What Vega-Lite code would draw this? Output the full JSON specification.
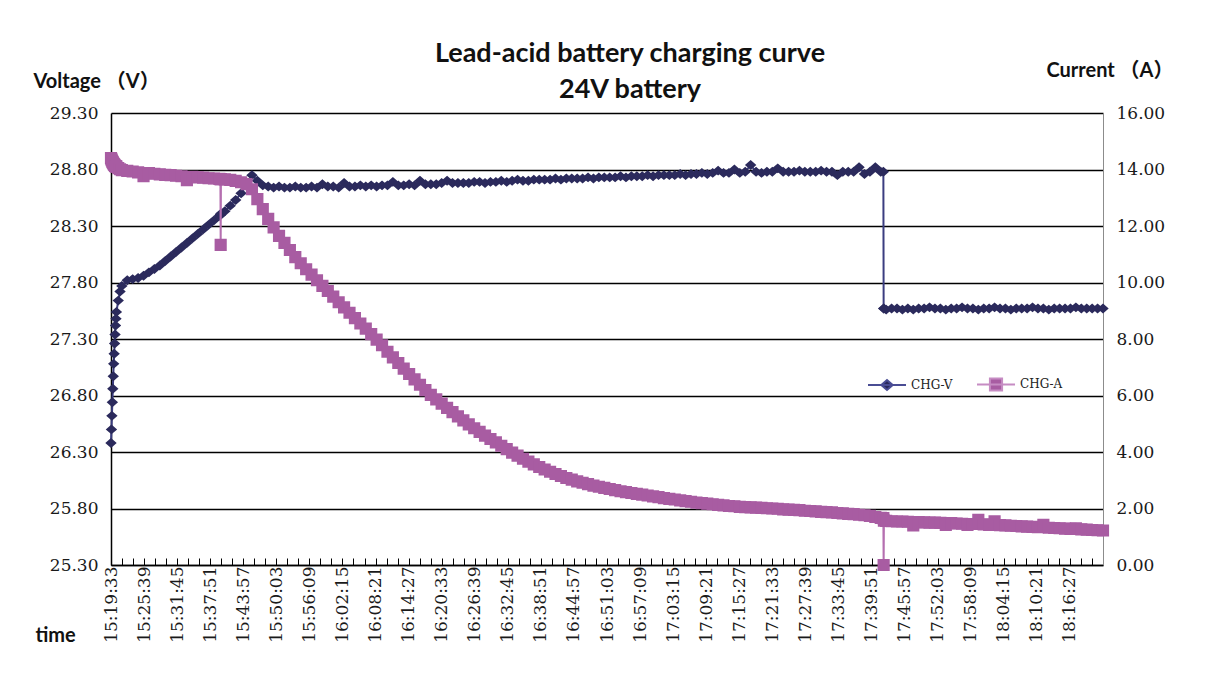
{
  "$schema": "https://vega.github.io/schema/vega-lite/v6.json",
  "width": 992,
  "height": 452,
  "autosize": {"type": "none"},
  "padding": {"left": 111, "top": 113, "right": 110, "bottom": 124},
  "background": "white",
  "config": {"view": {"stroke": null}},
  "title": {
    "text": ["Lead-acid battery charging curve", "24V battery"],
    "font": "Lato",
    "fontSize": 27,
    "fontWeight": "bold",
    "color": "#111111",
    "lineHeight": 36,
    "anchor": "middle",
    "frame": "group",
    "dx": 23,
    "offset": -44
  },
  "data": {
    "values": [
      {"t": "1970-01-01T15:19:33Z", "V": 26.38, "A": 14.40},
      {"t": "1970-01-01T15:19:38Z", "V": 26.50, "A": 14.36},
      {"t": "1970-01-01T15:19:43Z", "V": 26.62, "A": 14.32},
      {"t": "1970-01-01T15:19:48Z", "V": 26.74, "A": 14.28},
      {"t": "1970-01-01T15:19:53Z", "V": 26.86, "A": 14.25},
      {"t": "1970-01-01T15:19:58Z", "V": 26.97, "A": 14.22},
      {"t": "1970-01-01T15:20:03Z", "V": 27.08, "A": 14.19},
      {"t": "1970-01-01T15:20:08Z", "V": 27.17, "A": 14.17},
      {"t": "1970-01-01T15:20:13Z", "V": 27.26, "A": 14.15},
      {"t": "1970-01-01T15:20:18Z", "V": 27.34, "A": 14.13},
      {"t": "1970-01-01T15:20:23Z", "V": 27.42, "A": 14.12},
      {"t": "1970-01-01T15:20:28Z", "V": 27.48, "A": 14.11},
      {"t": "1970-01-01T15:20:33Z", "V": 27.54, "A": 14.10},
      {"t": "1970-01-01T15:20:53Z", "V": 27.64, "A": 14.05},
      {"t": "1970-01-01T15:21:13Z", "V": 27.72, "A": 14.01},
      {"t": "1970-01-01T15:21:33Z", "V": 27.77, "A": 13.98},
      {"t": "1970-01-01T15:22:33Z", "V": 27.82, "A": 13.95},
      {"t": "1970-01-01T15:23:33Z", "V": 27.83, "A": 13.93},
      {"t": "1970-01-01T15:24:33Z", "V": 27.84, "A": 13.90},
      {"t": "1970-01-01T15:25:33Z", "V": 27.86, "A": 13.76},
      {"t": "1970-01-01T15:26:33Z", "V": 27.89, "A": 13.87},
      {"t": "1970-01-01T15:27:33Z", "V": 27.92, "A": 13.85},
      {"t": "1970-01-01T15:28:33Z", "V": 27.95, "A": 13.83},
      {"t": "1970-01-01T15:29:33Z", "V": 27.99, "A": 13.81},
      {"t": "1970-01-01T15:30:33Z", "V": 28.03, "A": 13.80},
      {"t": "1970-01-01T15:31:33Z", "V": 28.07, "A": 13.78},
      {"t": "1970-01-01T15:32:33Z", "V": 28.11, "A": 13.76},
      {"t": "1970-01-01T15:33:33Z", "V": 28.15, "A": 13.62},
      {"t": "1970-01-01T15:34:33Z", "V": 28.19, "A": 13.74},
      {"t": "1970-01-01T15:35:33Z", "V": 28.23, "A": 13.72},
      {"t": "1970-01-01T15:36:33Z", "V": 28.27, "A": 13.71},
      {"t": "1970-01-01T15:37:33Z", "V": 28.31, "A": 13.69},
      {"t": "1970-01-01T15:38:33Z", "V": 28.35, "A": 13.68},
      {"t": "1970-01-01T15:39:33Z", "V": 28.39, "A": 13.67},
      {"t": "1970-01-01T15:39:44Z", "V": 28.40, "A": 13.66},
      {"t": "1970-01-01T15:39:47Z", "V": 28.40, "A": 11.33},
      {"t": "1970-01-01T15:39:50Z", "V": 28.41, "A": 13.66},
      {"t": "1970-01-01T15:40:33Z", "V": 28.43, "A": 13.65},
      {"t": "1970-01-01T15:41:33Z", "V": 28.48, "A": 13.63},
      {"t": "1970-01-01T15:42:33Z", "V": 28.53, "A": 13.60},
      {"t": "1970-01-01T15:43:33Z", "V": 28.59, "A": 13.55},
      {"t": "1970-01-01T15:44:33Z", "V": 28.66, "A": 13.48},
      {"t": "1970-01-01T15:45:33Z", "V": 28.75, "A": 13.30},
      {"t": "1970-01-01T15:46:33Z", "V": 28.70, "A": 12.95},
      {"t": "1970-01-01T15:47:33Z", "V": 28.66, "A": 12.60},
      {"t": "1970-01-01T15:48:33Z", "V": 28.65, "A": 12.25},
      {"t": "1970-01-01T15:49:33Z", "V": 28.64, "A": 11.95},
      {"t": "1970-01-01T15:50:33Z", "V": 28.65, "A": 11.65},
      {"t": "1970-01-01T15:51:33Z", "V": 28.64, "A": 11.40},
      {"t": "1970-01-01T15:52:33Z", "V": 28.64, "A": 11.15},
      {"t": "1970-01-01T15:53:33Z", "V": 28.65, "A": 10.90},
      {"t": "1970-01-01T15:54:33Z", "V": 28.64, "A": 10.68},
      {"t": "1970-01-01T15:55:33Z", "V": 28.64, "A": 10.47},
      {"t": "1970-01-01T15:56:33Z", "V": 28.65, "A": 10.28},
      {"t": "1970-01-01T15:57:33Z", "V": 28.64, "A": 10.08},
      {"t": "1970-01-01T15:58:33Z", "V": 28.67, "A": 9.88},
      {"t": "1970-01-01T15:59:33Z", "V": 28.65, "A": 9.70},
      {"t": "1970-01-01T16:00:33Z", "V": 28.65, "A": 9.50},
      {"t": "1970-01-01T16:01:33Z", "V": 28.64, "A": 9.30},
      {"t": "1970-01-01T16:02:33Z", "V": 28.68, "A": 9.12},
      {"t": "1970-01-01T16:03:33Z", "V": 28.65, "A": 8.93},
      {"t": "1970-01-01T16:04:33Z", "V": 28.65, "A": 8.74},
      {"t": "1970-01-01T16:05:33Z", "V": 28.66, "A": 8.55},
      {"t": "1970-01-01T16:06:33Z", "V": 28.65, "A": 8.37},
      {"t": "1970-01-01T16:07:33Z", "V": 28.66, "A": 8.17},
      {"t": "1970-01-01T16:08:33Z", "V": 28.65, "A": 7.98},
      {"t": "1970-01-01T16:09:33Z", "V": 28.66, "A": 7.78},
      {"t": "1970-01-01T16:10:33Z", "V": 28.66, "A": 7.55},
      {"t": "1970-01-01T16:11:33Z", "V": 28.69, "A": 7.35},
      {"t": "1970-01-01T16:12:33Z", "V": 28.66, "A": 7.15},
      {"t": "1970-01-01T16:13:33Z", "V": 28.66, "A": 6.95},
      {"t": "1970-01-01T16:14:33Z", "V": 28.67, "A": 6.76},
      {"t": "1970-01-01T16:15:33Z", "V": 28.66, "A": 6.57},
      {"t": "1970-01-01T16:16:33Z", "V": 28.70, "A": 6.38},
      {"t": "1970-01-01T16:17:33Z", "V": 28.67, "A": 6.19},
      {"t": "1970-01-01T16:18:33Z", "V": 28.67, "A": 6.02},
      {"t": "1970-01-01T16:19:33Z", "V": 28.67, "A": 5.86},
      {"t": "1970-01-01T16:20:33Z", "V": 28.68, "A": 5.71},
      {"t": "1970-01-01T16:21:33Z", "V": 28.70, "A": 5.56},
      {"t": "1970-01-01T16:22:33Z", "V": 28.68, "A": 5.41},
      {"t": "1970-01-01T16:23:33Z", "V": 28.68, "A": 5.26},
      {"t": "1970-01-01T16:24:33Z", "V": 28.68, "A": 5.12},
      {"t": "1970-01-01T16:25:33Z", "V": 28.68, "A": 4.98},
      {"t": "1970-01-01T16:26:33Z", "V": 28.69, "A": 4.84},
      {"t": "1970-01-01T16:27:33Z", "V": 28.69, "A": 4.71},
      {"t": "1970-01-01T16:28:33Z", "V": 28.68, "A": 4.58},
      {"t": "1970-01-01T16:29:33Z", "V": 28.69, "A": 4.46},
      {"t": "1970-01-01T16:30:33Z", "V": 28.69, "A": 4.34},
      {"t": "1970-01-01T16:31:33Z", "V": 28.70, "A": 4.22},
      {"t": "1970-01-01T16:32:33Z", "V": 28.69, "A": 4.10},
      {"t": "1970-01-01T16:33:33Z", "V": 28.70, "A": 3.98},
      {"t": "1970-01-01T16:34:33Z", "V": 28.71, "A": 3.87},
      {"t": "1970-01-01T16:35:33Z", "V": 28.70, "A": 3.76},
      {"t": "1970-01-01T16:36:33Z", "V": 28.70, "A": 3.66},
      {"t": "1970-01-01T16:37:33Z", "V": 28.71, "A": 3.56},
      {"t": "1970-01-01T16:38:33Z", "V": 28.71, "A": 3.47},
      {"t": "1970-01-01T16:39:33Z", "V": 28.71, "A": 3.38},
      {"t": "1970-01-01T16:40:33Z", "V": 28.71, "A": 3.30},
      {"t": "1970-01-01T16:41:33Z", "V": 28.72, "A": 3.22},
      {"t": "1970-01-01T16:42:33Z", "V": 28.71, "A": 3.15},
      {"t": "1970-01-01T16:43:33Z", "V": 28.72, "A": 3.08},
      {"t": "1970-01-01T16:44:33Z", "V": 28.72, "A": 3.02},
      {"t": "1970-01-01T16:45:33Z", "V": 28.72, "A": 2.96},
      {"t": "1970-01-01T16:46:33Z", "V": 28.72, "A": 2.91},
      {"t": "1970-01-01T16:47:33Z", "V": 28.73, "A": 2.86},
      {"t": "1970-01-01T16:48:33Z", "V": 28.72, "A": 2.81},
      {"t": "1970-01-01T16:49:33Z", "V": 28.73, "A": 2.77},
      {"t": "1970-01-01T16:50:33Z", "V": 28.73, "A": 2.73},
      {"t": "1970-01-01T16:51:33Z", "V": 28.73, "A": 2.69},
      {"t": "1970-01-01T16:52:33Z", "V": 28.73, "A": 2.65},
      {"t": "1970-01-01T16:53:33Z", "V": 28.74, "A": 2.61},
      {"t": "1970-01-01T16:54:33Z", "V": 28.73, "A": 2.58},
      {"t": "1970-01-01T16:55:33Z", "V": 28.74, "A": 2.55},
      {"t": "1970-01-01T16:56:33Z", "V": 28.74, "A": 2.52},
      {"t": "1970-01-01T16:57:33Z", "V": 28.74, "A": 2.49},
      {"t": "1970-01-01T16:58:33Z", "V": 28.75, "A": 2.46},
      {"t": "1970-01-01T16:59:33Z", "V": 28.74, "A": 2.43},
      {"t": "1970-01-01T17:00:33Z", "V": 28.75, "A": 2.40},
      {"t": "1970-01-01T17:01:33Z", "V": 28.75, "A": 2.37},
      {"t": "1970-01-01T17:02:33Z", "V": 28.75, "A": 2.34},
      {"t": "1970-01-01T17:03:33Z", "V": 28.75, "A": 2.32},
      {"t": "1970-01-01T17:04:33Z", "V": 28.76, "A": 2.29},
      {"t": "1970-01-01T17:05:33Z", "V": 28.75, "A": 2.26},
      {"t": "1970-01-01T17:06:33Z", "V": 28.76, "A": 2.24},
      {"t": "1970-01-01T17:07:33Z", "V": 28.76, "A": 2.21},
      {"t": "1970-01-01T17:08:33Z", "V": 28.77, "A": 2.19},
      {"t": "1970-01-01T17:09:33Z", "V": 28.76, "A": 2.17},
      {"t": "1970-01-01T17:10:33Z", "V": 28.77, "A": 2.15},
      {"t": "1970-01-01T17:11:33Z", "V": 28.79, "A": 2.13},
      {"t": "1970-01-01T17:12:33Z", "V": 28.77, "A": 2.11},
      {"t": "1970-01-01T17:13:33Z", "V": 28.77, "A": 2.09},
      {"t": "1970-01-01T17:14:33Z", "V": 28.80, "A": 2.08},
      {"t": "1970-01-01T17:15:33Z", "V": 28.77, "A": 2.06},
      {"t": "1970-01-01T17:16:33Z", "V": 28.78, "A": 2.05},
      {"t": "1970-01-01T17:17:33Z", "V": 28.84, "A": 2.04},
      {"t": "1970-01-01T17:18:33Z", "V": 28.78, "A": 2.03},
      {"t": "1970-01-01T17:19:33Z", "V": 28.77, "A": 2.02},
      {"t": "1970-01-01T17:20:33Z", "V": 28.78, "A": 2.01},
      {"t": "1970-01-01T17:21:33Z", "V": 28.78, "A": 2.00},
      {"t": "1970-01-01T17:22:33Z", "V": 28.81, "A": 1.99},
      {"t": "1970-01-01T17:23:33Z", "V": 28.78, "A": 1.97},
      {"t": "1970-01-01T17:24:33Z", "V": 28.78, "A": 1.96},
      {"t": "1970-01-01T17:25:33Z", "V": 28.78, "A": 1.95},
      {"t": "1970-01-01T17:26:33Z", "V": 28.79, "A": 1.94},
      {"t": "1970-01-01T17:27:33Z", "V": 28.78, "A": 1.92},
      {"t": "1970-01-01T17:28:33Z", "V": 28.78, "A": 1.91},
      {"t": "1970-01-01T17:29:33Z", "V": 28.78, "A": 1.90},
      {"t": "1970-01-01T17:30:33Z", "V": 28.79, "A": 1.88},
      {"t": "1970-01-01T17:31:33Z", "V": 28.78, "A": 1.87},
      {"t": "1970-01-01T17:32:33Z", "V": 28.78, "A": 1.86},
      {"t": "1970-01-01T17:33:33Z", "V": 28.75, "A": 1.84},
      {"t": "1970-01-01T17:34:33Z", "V": 28.78, "A": 1.83},
      {"t": "1970-01-01T17:35:33Z", "V": 28.78, "A": 1.81},
      {"t": "1970-01-01T17:36:33Z", "V": 28.78, "A": 1.80},
      {"t": "1970-01-01T17:37:33Z", "V": 28.82, "A": 1.78},
      {"t": "1970-01-01T17:38:33Z", "V": 28.76, "A": 1.76},
      {"t": "1970-01-01T17:39:33Z", "V": 28.78, "A": 1.74},
      {"t": "1970-01-01T17:40:33Z", "V": 28.82, "A": 1.70},
      {"t": "1970-01-01T17:41:33Z", "V": 28.78, "A": 1.67},
      {"t": "1970-01-01T17:42:02Z", "V": 28.78, "A": 1.66},
      {"t": "1970-01-01T17:42:05Z", "V": 27.57, "A": 0.00},
      {"t": "1970-01-01T17:42:08Z", "V": 27.57, "A": 1.57},
      {"t": "1970-01-01T17:42:33Z", "V": 27.56, "A": 1.56},
      {"t": "1970-01-01T17:43:33Z", "V": 27.57, "A": 1.55},
      {"t": "1970-01-01T17:44:33Z", "V": 27.57, "A": 1.54},
      {"t": "1970-01-01T17:45:33Z", "V": 27.56, "A": 1.54},
      {"t": "1970-01-01T17:46:33Z", "V": 27.57, "A": 1.53},
      {"t": "1970-01-01T17:47:33Z", "V": 27.56, "A": 1.40},
      {"t": "1970-01-01T17:48:33Z", "V": 27.57, "A": 1.52},
      {"t": "1970-01-01T17:49:33Z", "V": 27.57, "A": 1.51},
      {"t": "1970-01-01T17:50:33Z", "V": 27.58, "A": 1.50},
      {"t": "1970-01-01T17:51:33Z", "V": 27.57, "A": 1.50},
      {"t": "1970-01-01T17:52:33Z", "V": 27.57, "A": 1.49},
      {"t": "1970-01-01T17:53:33Z", "V": 27.56, "A": 1.42},
      {"t": "1970-01-01T17:54:33Z", "V": 27.57, "A": 1.48},
      {"t": "1970-01-01T17:55:33Z", "V": 27.57, "A": 1.47},
      {"t": "1970-01-01T17:56:33Z", "V": 27.58, "A": 1.46},
      {"t": "1970-01-01T17:57:33Z", "V": 27.57, "A": 1.42},
      {"t": "1970-01-01T17:58:33Z", "V": 27.57, "A": 1.45},
      {"t": "1970-01-01T17:59:33Z", "V": 27.56, "A": 1.60},
      {"t": "1970-01-01T18:00:33Z", "V": 27.57, "A": 1.44},
      {"t": "1970-01-01T18:01:33Z", "V": 27.57, "A": 1.42},
      {"t": "1970-01-01T18:02:33Z", "V": 27.58, "A": 1.55},
      {"t": "1970-01-01T18:03:33Z", "V": 27.57, "A": 1.41},
      {"t": "1970-01-01T18:04:33Z", "V": 27.57, "A": 1.40},
      {"t": "1970-01-01T18:05:33Z", "V": 27.56, "A": 1.39},
      {"t": "1970-01-01T18:06:33Z", "V": 27.57, "A": 1.38},
      {"t": "1970-01-01T18:07:33Z", "V": 27.57, "A": 1.37},
      {"t": "1970-01-01T18:08:33Z", "V": 27.57, "A": 1.36},
      {"t": "1970-01-01T18:09:33Z", "V": 27.58, "A": 1.35},
      {"t": "1970-01-01T18:10:33Z", "V": 27.57, "A": 1.34},
      {"t": "1970-01-01T18:11:33Z", "V": 27.57, "A": 1.42},
      {"t": "1970-01-01T18:12:33Z", "V": 27.56, "A": 1.32},
      {"t": "1970-01-01T18:13:33Z", "V": 27.57, "A": 1.31},
      {"t": "1970-01-01T18:14:33Z", "V": 27.57, "A": 1.30},
      {"t": "1970-01-01T18:15:33Z", "V": 27.57, "A": 1.29},
      {"t": "1970-01-01T18:16:33Z", "V": 27.57, "A": 1.28},
      {"t": "1970-01-01T18:17:33Z", "V": 27.58, "A": 1.30},
      {"t": "1970-01-01T18:18:33Z", "V": 27.57, "A": 1.26},
      {"t": "1970-01-01T18:19:33Z", "V": 27.57, "A": 1.25},
      {"t": "1970-01-01T18:20:33Z", "V": 27.57, "A": 1.24},
      {"t": "1970-01-01T18:21:33Z", "V": 27.57, "A": 1.23},
      {"t": "1970-01-01T18:22:33Z", "V": 27.57, "A": 1.22}
    ]
  },
  "encoding": {
    "x": {
      "field": "t",
      "type": "temporal",
      "scale": {"type": "utc", "domain": [55173000, 66153000]},
      "axis": {
        "title": "time",
        "titleFont": "Lato",
        "titleFontSize": 20,
        "titleFontWeight": "bold",
        "titleColor": "#111111",
        "titleAngle": 0,
        "titleAlign": "left",
        "titleBaseline": "alphabetic",
        "titleX": -76,
        "titleY": 76,
        "values": [55173000, 55295000, 55417000, 55539000, 55661000, 55783000, 55905000, 56027000, 56149000, 56271000, 56393000, 56515000, 56637000, 56759000, 56881000, 57003000, 57125000, 57247000, 57369000, 57491000, 57613000, 57735000, 57857000, 57979000, 58101000, 58223000, 58345000, 58467000, 58589000, 58711000, 58833000, 58955000, 59077000, 59199000, 59321000, 59443000, 59565000, 59687000, 59809000, 59931000, 60053000, 60175000, 60297000, 60419000, 60541000, 60663000, 60785000, 60907000, 61029000, 61151000, 61273000, 61395000, 61517000, 61639000, 61761000, 61883000, 62005000, 62127000, 62249000, 62371000, 62493000, 62615000, 62737000, 62859000, 62981000, 63103000, 63225000, 63347000, 63469000, 63591000, 63713000, 63835000, 63957000, 64079000, 64201000, 64323000, 64445000, 64567000, 64689000, 64811000, 64933000, 65055000, 65177000, 65299000, 65421000, 65543000, 65665000, 65787000, 65909000, 66031000, 66153000],
        "labelExpr": "((datum.value / 1000 - 55173) % 366 === 0 && datum.value < 66000000) ? utcFormat(datum.value, '%H:%M:%S') : ''",
        "labelOverlap": false,
        "labelBound": false,
        "labelFlush": false,
        "labelAngle": -90,
        "labelFont": "DejaVu Serif",
        "labelFontSize": 17,
        "labelColor": "#1a1a1a",
        "labelPadding": 8,
        "grid": false,
        "domainColor": "#000000",
        "domainWidth": 1.5,
        "ticks": true,
        "tickColor": "#000000",
        "tickWidth": 1,
        "tickSize": -7
      }
    }
  },
  "layer": [
    {
      "encoding": {
        "y": {
          "field": "V",
          "type": "quantitative",
          "scale": {"domain": [25.3, 29.3], "nice": false, "zero": false},
          "axis": {
            "orient": "left",
            "values": [25.3, 25.8, 26.3, 26.8, 27.3, 27.8, 28.3, 28.8, 29.3],
            "format": ".2f",
            "grid": true,
            "gridColor": "#000000",
            "gridWidth": 1.5,
            "domainColor": "#000000",
            "domainWidth": 1.5,
            "ticks": false,
            "labelFont": "DejaVu Serif",
            "labelFontSize": 17,
            "labelColor": "#1a1a1a",
            "labelPadding": 13,
            "title": "Voltage （V）",
            "titleFont": "Lato, 'Noto Sans CJK SC'",
            "titleFontSize": 20,
            "titleFontWeight": "bold",
            "titleColor": "#111111",
            "titleAngle": 0,
            "titleAlign": "left",
            "titleBaseline": "alphabetic",
            "titleX": -78,
            "titleY": -26
          }
        }
      },
      "layer": [
        {"mark": {"type": "line", "color": "#3B3D80", "strokeWidth": 2}, "encoding": {}},
        {
          "mark": {"type": "point", "filled": true, "size": 1444, "opacity": 1},
          "encoding": {
            "strokeWidth": {"value": 0},
            "color": {
              "datum": "CHG-V",
              "scale": {"domain": ["CHG-V", "CHG-A"], "range": ["#2B2A5C", "#A85CA2"]},
              "legend": {
                "orient": "none",
                "legendX": 756,
                "legendY": 251,
                "direction": "horizontal",
                "title": null,
                "padding": 0,
                "labelFont": "DejaVu Serif",
                "labelFontSize": 12,
                "labelColor": "#222222",
                "labelOffset": 4,
                "columnPadding": 20,
                "symbolSize": 1444,
                "symbolStrokeWidth": 2
              }
            },
            "stroke": {
              "datum": "CHG-V",
              "scale": {"domain": ["CHG-V", "CHG-A"], "range": ["#4A4D94", "#C68CC3"]},
              "legend": {
                "orient": "none",
                "legendX": 756,
                "legendY": 251,
                "direction": "horizontal",
                "title": null,
                "padding": 0,
                "labelFont": "DejaVu Serif",
                "labelFontSize": 12,
                "labelColor": "#222222",
                "labelOffset": 4,
                "columnPadding": 20,
                "symbolSize": 1444,
                "symbolStrokeWidth": 2
              }
            },
            "shape": {
              "datum": "CHG-V",
              "scale": {"domain": ["CHG-V", "CHG-A"], "range": ["M-1,0H1M-0.3,0L0,-0.26L0.3,0L0,0.26Z", "M-1,0H1M-0.32,-0.32H0.32V0.32H-0.32Z"]},
              "legend": {
                "orient": "none",
                "legendX": 756,
                "legendY": 251,
                "direction": "horizontal",
                "title": null,
                "padding": 0,
                "labelFont": "DejaVu Serif",
                "labelFontSize": 12,
                "labelColor": "#222222",
                "labelOffset": 4,
                "columnPadding": 20,
                "symbolSize": 1444,
                "symbolStrokeWidth": 2
              }
            }
          }
        }
      ]
    },
    {
      "encoding": {
        "y": {
          "field": "A",
          "type": "quantitative",
          "scale": {"domain": [0, 16], "nice": false},
          "axis": {
            "orient": "right",
            "values": [0, 2, 4, 6, 8, 10, 12, 14, 16],
            "format": ".2f",
            "grid": false,
            "domainColor": "#8c8c8c",
            "domainWidth": 1,
            "ticks": false,
            "labelFont": "DejaVu Serif",
            "labelFontSize": 17,
            "labelColor": "#1a1a1a",
            "labelPadding": 13,
            "title": "Current （A）",
            "titleFont": "Lato, 'Noto Sans CJK SC'",
            "titleFontSize": 20,
            "titleFontWeight": "bold",
            "titleColor": "#111111",
            "titleAngle": 0,
            "titleAlign": "left",
            "titleBaseline": "alphabetic",
            "titleX": -57,
            "titleY": -37
          }
        }
      },
      "layer": [
        {"mark": {"type": "line", "color": "#B56FB0", "strokeWidth": 2}, "encoding": {}},
        {
          "mark": {"type": "point", "filled": true, "size": 1444, "opacity": 1},
          "encoding": {
            "strokeWidth": {"value": 0},
            "color": {"datum": "CHG-A"},
            "stroke": {"datum": "CHG-A"},
            "shape": {"datum": "CHG-A"}
          }
        }
      ]
    }
  ],
  "resolve": {"scale": {"y": "independent"}}
}
